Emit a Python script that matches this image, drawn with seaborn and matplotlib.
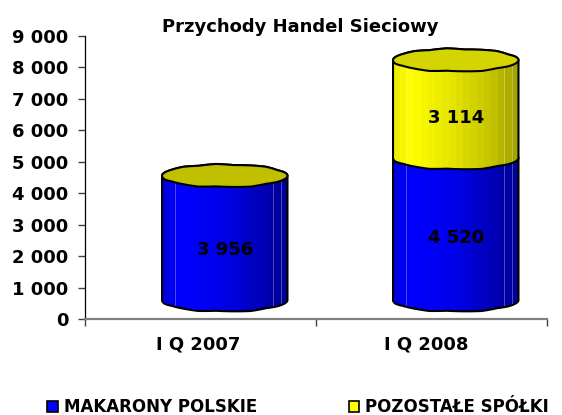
import numpy as np
import pandas as pd
import seaborn as sns
import matplotlib.pyplot as plt
from matplotlib.colors import LinearSegmentedColormap
from matplotlib.patches import Polygon, Patch

categories = ['I Q 2007', 'I Q 2008']
makarony = [3956, 4520]
pozostale = [0, 3114]
tick_values = [0, 1000, 2000, 3000, 4000, 5000, 6000, 7000, 8000, 9000]
tick_labels = ['0', '1 000', '2 000', '3 000', '4 000', '5 000', '6 000', '7 000', '8 000', '9 000']
series_names = ['MAKARONY POLSKIE', 'POZOSTAŁE SPÓŁKI']

# 3d look: the cylinders float above the axis and sit right of the ticks
lift = 600
ry = 360
shift = .105
wobble = [0, 0, -.05, .04, 0, -.05, .05, -.03, .04, 0, 0, 0, -.04, .03, 0, -.05, .05, 0, -.05, .04, 0, 0]

blue = LinearSegmentedColormap.from_list('b', [(0, '#0000e0'), (.12, '#0000ff'), (.45, '#0000ee'), (.8, '#0000b8'), (1, '#000098')])
yellow = LinearSegmentedColormap.from_list('y', [(0, '#eeee00'), (.12, '#ffff00'), (.45, '#e6e600'), (.8, '#c4c400'), (1, '#a4a400')])


def outline(xc, yc, rx, n=220):
    t = np.linspace(0, 2 * np.pi, n, endpoint=False)
    w = np.interp(t, np.linspace(0, 2 * np.pi, len(wobble) + 1), wobble + wobble[:1])
    return xc + rx * np.cos(t), yc + ry * (np.sin(t) + w)


def drawCylinder(ax, bar, cmap, z, top_color=None):
    x0, y0 = bar.get_x(), bar.get_y()
    w, h = bar.get_width(), bar.get_height()
    xc, rx = x0 + w / 2, w / 2
    bx, by = outline(xc, y0, rx)
    tx, ty = outline(xc, y0 + h, rx)
    n = len(bx)
    # body: lower half of the bottom rim, then the upper half back along the top
    body_x = np.r_[bx[n // 2:], bx[0], tx[:n // 2 + 1]]
    body_y = np.r_[by[n // 2:], by[0], ty[:n // 2 + 1]]
    clip = Polygon(np.c_[body_x, body_y], closed=True, transform=ax.transData)
    im = ax.imshow(np.linspace(0, 1, 18)[None, :], cmap=cmap, aspect='auto', zorder=z, interpolation='nearest',
                   extent=(x0, x0 + w, y0 - ry * 1.2, y0 + h + ry * 1.2))
    im.set_clip_path(clip)
    for f in [.1, .885, .945]:
        ln = ax.axvline(x0 + f * w, color='white', alpha=.3, lw=.7, zorder=z + .1)
        ln.set_clip_path(clip)
    ax.add_patch(Polygon(np.c_[body_x, body_y], closed=True, fc='none', ec='black', lw=1.5, zorder=z + .2))
    if top_color:
        ax.add_patch(Polygon(np.c_[tx, ty], closed=True, fc=top_color, ec='black', lw=1.5, zorder=z + .3))


df = pd.DataFrame({'kw': categories, 'a': makarony, 'b': pozostale})
sns.set_theme(style='white')
plt.rcParams['font.family'] = ['DejaVu Sans']
plt.rcParams['text.color'] = 'black'

fig = plt.figure(figsize=(5.62, 4.15), dpi=100)
ax = fig.add_axes([85 / 562, 1 - 319 / 415, 462 / 562, 283 / 415])

sns.barplot(data=df, x='kw', y='a', color='#0000ff', width=.543, ax=ax)
sns.barplot(data=df, x='kw', y='b', color='#ffff00', width=.543, ax=ax)
bars = list(ax.patches)
bars[0].set_y(lift)
bars[1].set_y(lift)
bars[3].set_y(lift + makarony[1])
bars[2].set_visible(False)
for b in bars:
    b.set_x(b.get_x() + shift)
    b.set_alpha(0)

drawCylinder(ax, bars[0], blue, 2, '#c0c000')
drawCylinder(ax, bars[1], blue, 2)
drawCylinder(ax, bars[3], yellow, 3, '#d4d400')

ax.set_xlim(-.5, 1.5)
ax.set_ylim(0, 9000)
ax.set_xlabel('')
ax.set_ylabel('')
ax.set_xticks([-.5, .5, 1.5], ['', '', ''])
ax.set_yticks(tick_values, tick_labels, fontsize=13, fontweight='bold', color='black')
for i, c in enumerate(categories):
    ax.annotate(c, (i, 0), xytext=(-2 - 2 * i, -18), textcoords='offset points', ha='center', va='center',
                fontsize=13, fontweight='bold', annotation_clip=False)
ax.tick_params(axis='y', length=5, width=1, color='#404040', direction='out', left=True, pad=7)
ax.tick_params(axis='x', length=5, width=1, color='#404040', direction='out', bottom=True)
ax.spines[['top', 'right']].set_visible(False)
ax.spines['left'].set_color('black')
ax.spines['left'].set_linewidth(.9)
ax.spines['bottom'].set_color('#808080')
ax.spines['bottom'].set_linewidth(1.6)

ax.text(shift, 2200, '3 956', ha='center', va='center', fontsize=13, fontweight='bold', zorder=6)
ax.text(1 + shift, 2580, '4 520', ha='center', va='center', fontsize=13, fontweight='bold', zorder=6)
ax.text(1 + shift, 6380, '3 114', ha='center', va='center', fontsize=13, fontweight='bold', zorder=6)

fig.text(300 / 562, 1 - 27 / 415, 'Przychody Handel Sieciowy', ha='center', va='center', fontsize=13, fontweight='bold')
leg = fig.legend(handles=[Patch(fc='#0000ff', ec='black', lw=1.2), Patch(fc='#ffff00', ec='black', lw=1.2)],
                 labels=series_names, loc='center', bbox_to_anchor=(298 / 562, 1 - 407 / 415), ncol=2, frameon=False,
                 prop=dict(size=12, weight='bold'), handlelength=.65, handleheight=.65, handletextpad=.35,
                 columnspacing=5.5, borderpad=0, borderaxespad=0)

fig.savefig('out.png', dpi=100)
